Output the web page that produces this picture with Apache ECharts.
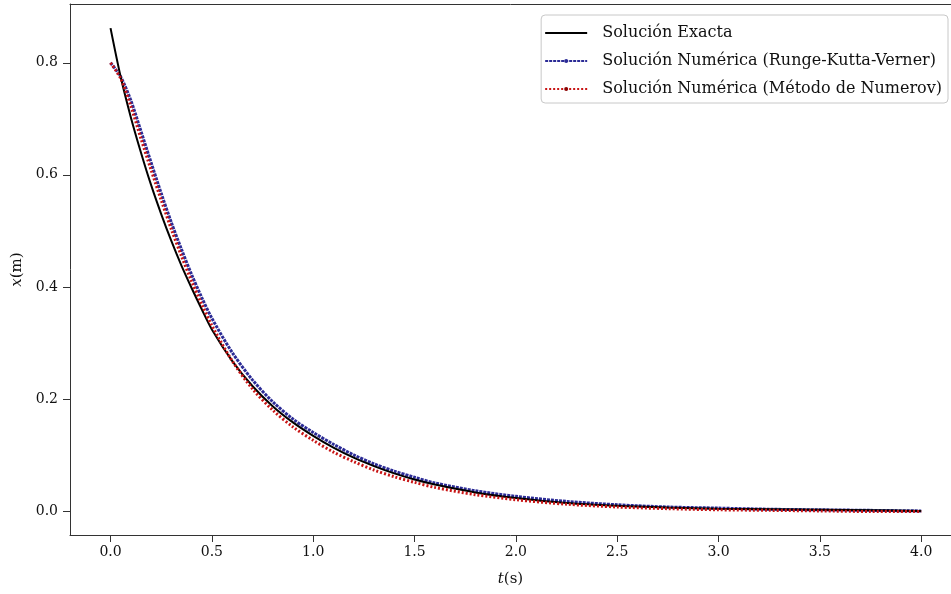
<!DOCTYPE html>
<html>
<head>
<meta charset="utf-8">
<script src="https://cdn.jsdelivr.net/npm/echarts@6.0.0/dist/echarts.min.js"></script>
<style>
html,body{margin:0;padding:0;background:#fff;}
#chart{width:951px;height:594px;}
</style>
</head>
<body>
<div id="chart"></div>
<script>
const tValues = [0, 0.05, 0.1, 0.15, 0.2, 0.25, 0.3, 0.35, 0.4, 0.45, 0.5, 0.6, 0.7, 0.8, 0.9, 1.0, 1.1, 1.2, 1.3, 1.4, 1.5, 1.6, 1.8, 2.0, 2.25, 2.5, 2.75, 3.0, 3.25, 3.5, 3.75, 4.0];
const exacta = [0.862, 0.775, 0.703, 0.640, 0.582, 0.530, 0.482, 0.438, 0.398, 0.360, 0.324, 0.268, 0.223, 0.187, 0.158, 0.134, 0.113, 0.095, 0.080, 0.067, 0.056, 0.047, 0.033, 0.023, 0.014, 0.009, 0.006, 0.004, 0.003, 0.002, 0.001, 0.000];
const rungeKutta = [0.800, 0.775, 0.733, 0.678, 0.622, 0.567, 0.515, 0.467, 0.422, 0.381, 0.344, 0.283, 0.234, 0.195, 0.164, 0.140, 0.119, 0.100, 0.084, 0.071, 0.060, 0.050, 0.036, 0.026, 0.017, 0.011, 0.007, 0.005, 0.003, 0.002, 0.001, 0.000];
const numerov = [0.800, 0.772, 0.723, 0.665, 0.609, 0.555, 0.503, 0.455, 0.410, 0.369, 0.331, 0.268, 0.218, 0.180, 0.150, 0.126, 0.105, 0.088, 0.073, 0.061, 0.051, 0.042, 0.029, 0.020, 0.012, 0.007, 0.004, 0.002, 0.001, 0.000, -0.001, -0.001];
const xTicks = [0, 0.5, 1, 1.5, 2, 2.5, 3, 3.5, 4];
const yTicks = [0, 0.2, 0.4, 0.6, 0.8];
const seriesNames = ['Solución Exacta', 'Solución Numérica (Runge-Kutta-Verner)', 'Solución Numérica (Método de Numerov)'];

const FONT = 'DejaVu Serif';
const X_MIN = -0.2, X_MAX = 4.147, Y_MIN = -0.043, Y_MAX = 0.905;
const pair = (ys) => tValues.map((t, i) => [t, ys[i]]);

const chart = echarts.init(document.getElementById('chart'), null, {renderer: 'canvas'});
chart.setOption({
  animation: false,
  backgroundColor: '#ffffff',
  grid: {left: 70, top: 4, bottom: 59, right: 0, show: false},
  legend: {
    orient: 'vertical', right: 3, top: 15,
    backgroundColor: '#fff', borderColor: '#c8c8c8', borderWidth: 1, borderRadius: 4,
    padding: [8, 6, 4, 3], itemGap: 8, itemWidth: 42, itemHeight: 5,
    textStyle: {fontFamily: FONT, fontSize: 16, color: '#111', lineHeight: 20, padding: [0, 0, 0, 10]},
    data: [
      {name: seriesNames[0], itemStyle: {opacity: 0}},
      {name: seriesNames[1]},
      {name: seriesNames[2]}
    ]
  },
  xAxis: [{
    type: 'value', min: X_MIN, max: X_MAX,
    name: '{i|t}(s)', nameLocation: 'middle', nameGap: 37,
    nameTextStyle: {fontFamily: FONT, fontSize: 15, color: '#111', rich: {i: {fontFamily: FONT, fontStyle: 'italic', fontSize: 15, color: '#111'}}},
    axisLine: {show: true, onZero: false, lineStyle: {color: '#333', width: 1}},
    axisTick: {show: true, length: 7, lineStyle: {color: '#333'}, customValues: xTicks},
    axisLabel: {fontFamily: FONT, fontSize: 14, color: '#111', margin: 10, customValues: xTicks, formatter: v => v.toFixed(1)},
    splitLine: {show: false}
  }, {
    type: 'value', position: 'top', min: X_MIN, max: X_MAX,
    axisLine: {show: true, onZero: false, lineStyle: {color: '#333', width: 1}},
    axisTick: {show: false}, axisLabel: {show: false}, splitLine: {show: false}
  }],
  yAxis: {
    type: 'value', min: Y_MIN, max: Y_MAX,
    name: '{i|x}(m)', nameLocation: 'middle', nameGap: 37, nameRotate: 90,
    nameTextStyle: {fontFamily: FONT, fontSize: 15, color: '#111', rich: {i: {fontFamily: FONT, fontStyle: 'italic', fontSize: 15, color: '#111'}}},
    axisLine: {show: true, onZero: false, lineStyle: {color: '#333', width: 1}},
    axisTick: {show: true, length: 7, lineStyle: {color: '#333'}, customValues: yTicks},
    axisLabel: {fontFamily: FONT, fontSize: 14, color: '#111', margin: 12, customValues: yTicks, formatter: v => v.toFixed(1)},
    splitLine: {show: false}
  },
  series: [
    {
      name: seriesNames[0], type: 'line', data: pair(exacta), smooth: 0.3,
      symbol: 'none', showSymbol: false, z: 3,
      lineStyle: {color: '#000', width: 2}, itemStyle: {color: '#000'}
    },
    {
      name: seriesNames[1], type: 'line', data: pair(rungeKutta), smooth: 0.3,
      symbol: 'circle', symbolSize: 4, showSymbol: false, z: 2,
      lineStyle: {color: '#2b2b96', width: 3, type: [3, 1]}, itemStyle: {color: '#2b2b96'}
    },
    {
      name: seriesNames[2], type: 'line', data: pair(numerov), smooth: 0.3,
      symbol: 'circle', symbolSize: 3, showSymbol: false, z: 4,
      lineStyle: {color: '#c81414', width: 3, type: [2, 2]}, itemStyle: {color: '#8b0000'}
    }
  ]
});
</script>
</body>
</html>
